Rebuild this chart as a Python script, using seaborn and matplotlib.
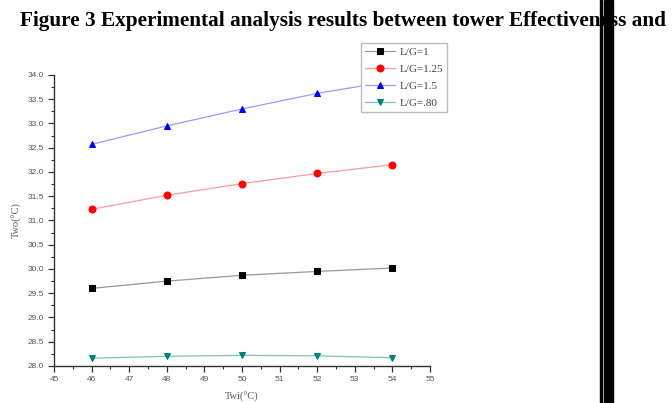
import numpy as np
import pandas as pd
import matplotlib
matplotlib.use("Agg")
import matplotlib.pyplot as plt
import seaborn as sns
from matplotlib.ticker import MultipleLocator

twi = [46, 48, 50, 52, 54]
lg_1 = [29.60, 29.75, 29.87, 29.95, 30.02]
lg_125 = [31.23, 31.52, 31.76, 31.97, 32.15]
lg_15 = [32.57, 32.95, 33.30, 33.62, 33.88]
lg_080 = [28.16, 28.20, 28.22, 28.21, 28.17]

series = ["L/G=1", "L/G=1.25", "L/G=1.5", "L/G=.80"]
marker_colors = ["#000000", "#ff0000", "#0000ff", "#008080"]
line_colors = ["#999999", "#ff9a9a", "#9a9aff", "#80c0c0"]
markers = ["s", "o", "^", "v"]

df = pd.DataFrame({
    "Twi": twi * 4,
    "Two": lg_1 + lg_125 + lg_15 + lg_080,
    "series": sum([[s] * len(twi) for s in series], []),
})

sns.set_style("ticks")
plt.rcParams["font.family"] = ["Liberation Serif", "DejaVu Serif"]

fig = plt.figure(figsize=(6.72, 4.03), dpi=100)
ax = fig.add_axes([54 / 672, 1 - 366 / 403, 376 / 672, 291 / 403])

for s, mc, lc, m in zip(series, marker_colors, line_colors, markers):
    d = df[df["series"] == s]
    sns.lineplot(data=d, x="Twi", y="Two", ax=ax, color=lc, linewidth=0.9,
                 marker=m, markersize=5, markerfacecolor=mc, markeredgecolor=mc,
                 label=s, zorder=3)

ax.set_xlim(45, 55)
ax.set_ylim(28.0, 34.0)
ax.xaxis.set_major_locator(MultipleLocator(1))
ax.xaxis.set_minor_locator(MultipleLocator(0.5))
ax.yaxis.set_major_locator(MultipleLocator(0.5))
ax.yaxis.set_minor_locator(MultipleLocator(0.25))
ax.yaxis.set_major_formatter(matplotlib.ticker.FormatStrFormatter("%.1f"))
sns.despine(ax=ax)
for sp in ["left", "bottom"]:
    ax.spines[sp].set_color("#333333")
    ax.spines[sp].set_linewidth(1.0)
ax.tick_params(which="major", direction="out", length=4, width=0.9, color="#333333",
               labelsize=6, labelcolor="#555555", pad=3)
ax.tick_params(which="minor", direction="out", length=2, width=0.8, color="#333333")
for lab in ax.get_xticklabels() + ax.get_yticklabels():
    lab.set_family(["Liberation Sans", "DejaVu Sans"])

ax.set_xlabel("Twi(°C)", fontsize=7.5, color="#555555", labelpad=7)
ax.set_ylabel("Two(°C)", fontsize=7.5, color="#555555", labelpad=4)

leg = ax.legend(loc="upper left", bbox_to_anchor=(307 / 376, 323 / 291), frameon=True,
                borderaxespad=0, fontsize=8.0, handlelength=2.75, borderpad=0.35,
                labelspacing=0.65, handletextpad=0.4, fancybox=False, framealpha=1)
leg.get_frame().set_edgecolor("#bbbbbb")
leg.get_frame().set_linewidth(1.0)
leg.set_zorder(5)
for t in leg.get_texts():
    t.set_color("#444444")

fig.text(20 / 672, 1 - 21 / 403, "Figure 3 Experimental analysis results between tower Effectiveness and",
         fontsize=15.3, fontweight="bold", ha="left", va="center", color="black")

# black separator bars on the right
fig.patches.append(plt.Rectangle((600 / 672, 0), 1.5 / 672, 1, transform=fig.transFigure,
                                 color="black", zorder=10))
fig.patches.append(plt.Rectangle((603.5 / 672, 0), 9 / 672, 1, transform=fig.transFigure,
                                 color="black", zorder=10))

plt.savefig("out.png", dpi=100)
